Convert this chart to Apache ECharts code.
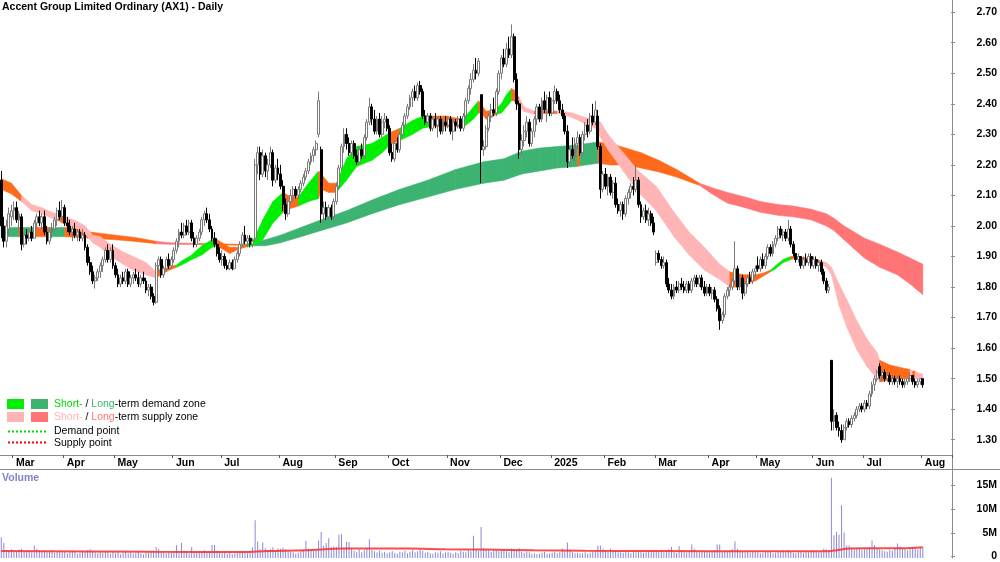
<!DOCTYPE html>
<html><head><meta charset="utf-8">
<script src="https://cdn.jsdelivr.net/npm/echarts@6/dist/echarts.min.js"></script>
<style>html,body{margin:0;padding:0;background:#fff}#c{width:1000px;height:562px}</style>
</head><body><div id="c"></div><script>
const chartTitle = 'Accent Group Limited Ordinary (AX1) - Daily';
const holidays = ['2024-03-29','2024-04-01','2024-04-25','2024-06-10','2024-12-25','2024-12-26','2025-01-01','2025-01-27','2025-04-18','2025-04-21','2025-04-25','2025-06-09'];
const monthNames = ['Jan','Feb','Mar','Apr','May','Jun','Jul','Aug','Sep','Oct','Nov','Dec'];
const padSlots = 11;

const opens = [
2.15,2.00,1.95,1.99,2.03,
2.05,2.06,2.02,2.03,1.94,1.97,1.96,1.98,1.96,2.01,2.03,2.01,2.03,1.98,1.95,1.98,1.99,2.02,2.05,2.03,
2.06,2.01,2.00,1.98,1.99,1.97,1.98,1.96,1.97,1.93,1.88,1.85,1.82,1.83,1.85,1.87,1.89,1.92,1.89,1.92,
1.87,1.84,1.81,1.83,1.82,1.85,1.81,1.83,1.84,1.83,1.81,1.83,1.82,1.79,1.80,1.77,1.75,1.87,1.89,1.84,1.86,1.89,1.87,
1.89,1.92,1.95,1.98,1.97,2.00,1.98,2.01,1.96,1.94,1.96,1.98,2.02,2.04,2.02,1.99,1.96,1.94,1.91,
1.89,1.90,1.87,1.86,1.88,1.86,1.89,1.91,1.94,1.97,1.95,1.96,1.94,1.96,2.20,2.24,2.17,2.23,2.18,2.20,2.24,2.15,2.19,
2.17,2.13,2.07,2.04,2.08,2.10,2.12,2.10,2.12,2.14,2.16,2.18,2.21,2.23,2.25,2.30,2.25,2.04,2.06,2.03,2.06,2.03,
2.08,2.13,2.19,2.26,2.30,2.27,2.24,2.27,2.23,2.21,2.25,2.23,2.29,2.34,2.39,2.35,2.31,2.35,2.30,2.34,2.35,
2.32,2.24,2.22,2.27,2.25,2.30,2.33,2.36,2.39,2.42,2.44,2.42,2.46,2.44,2.36,2.34,2.36,2.32,2.35,2.33,2.35,2.31,2.34,
2.33,2.35,2.31,2.34,2.33,2.35,2.32,2.36,2.41,2.45,2.48,2.51,2.50,2.43,2.25,2.26,2.32,2.36,2.38,2.37,2.44,
2.50,2.55,2.53,2.58,2.56,2.62,2.48,2.40,2.25,2.28,2.31,2.34,2.27,2.31,2.35,2.39,2.35,2.41,2.38,2.42,
2.37,2.41,2.44,2.41,2.38,2.36,2.31,2.21,2.25,2.23,2.27,2.29,2.24,2.30,2.33,2.31,2.36,2.34,2.36,2.26,2.12,
2.17,2.13,2.16,2.11,2.14,2.07,2.05,2.07,2.04,2.09,2.11,2.13,2.12,2.15,2.07,2.03,2.05,2.02,2.04,2.01,
1.88,1.91,1.89,1.87,1.88,1.81,1.79,1.77,1.80,1.79,1.81,1.80,1.79,1.81,1.79,1.82,1.83,1.81,1.83,1.80,1.78,
1.80,1.78,1.79,1.76,1.73,1.69,1.71,1.77,1.79,1.80,1.82,1.86,1.80,1.83,1.78,1.81,1.83,1.82,1.85,
1.87,1.86,1.89,1.87,1.90,1.93,1.91,1.94,1.96,1.99,1.97,1.98,1.96,1.99,1.94,1.91,1.89,1.90,1.87,1.89,1.88,1.90,
1.87,1.89,1.87,1.88,1.85,1.82,1.79,1.56,1.36,1.38,1.34,1.33,1.30,1.34,1.36,1.35,1.37,1.38,1.40,1.41,
1.40,1.42,1.41,1.45,1.48,1.50,1.54,1.51,1.52,1.50,1.51,1.49,1.50,1.49,1.50,1.49,1.48,1.49,1.50,1.51,1.49,1.48,1.49,1.50
];
const highs = [
2.18,2.03,2.02,2.06,2.07,
2.08,2.08,2.05,2.04,1.98,1.99,1.99,2.00,2.02,2.04,2.05,2.04,2.05,2.00,1.99,2.01,2.03,2.06,2.08,2.085,
2.07,2.03,2.02,2.00,2.01,1.99,1.99,1.99,1.98,1.94,1.90,1.87,1.84,1.86,1.88,1.90,1.93,1.94,1.93,1.94,
1.88,1.86,1.84,1.85,1.86,1.86,1.84,1.85,1.86,1.85,1.84,1.85,1.83,1.81,1.81,1.78,1.88,1.90,1.90,1.87,1.90,1.91,1.90,
1.93,1.96,1.99,2.01,2.01,2.02,2.02,2.02,1.98,1.97,1.99,2.03,2.05,2.06,2.04,2.00,1.98,1.96,1.93,
1.92,1.91,1.89,1.89,1.89,1.90,1.92,1.95,1.98,2.00,1.97,1.97,1.96,2.22,2.26,2.26,2.25,2.24,2.22,2.26,2.25,2.20,2.22,
2.20,2.15,2.09,2.09,2.12,2.13,2.13,2.13,2.15,2.17,2.19,2.22,2.24,2.26,2.28,2.44,2.26,2.08,2.08,2.07,2.07,2.09,
2.14,2.20,2.27,2.32,2.32,2.29,2.28,2.28,2.25,2.26,2.27,2.30,2.35,2.42,2.40,2.38,2.36,2.37,2.36,2.37,2.36,
2.33,2.27,2.28,2.29,2.31,2.34,2.37,2.40,2.43,2.45,2.46,2.47,2.475,2.45,2.38,2.37,2.37,2.36,2.37,2.36,2.36,2.35,2.36,
2.36,2.36,2.35,2.35,2.36,2.36,2.37,2.42,2.46,2.50,2.53,2.55,2.55,2.43,2.28,2.33,2.37,2.40,2.42,2.45,2.51,
2.56,2.58,2.60,2.62,2.66,2.63,2.50,2.41,2.30,2.33,2.36,2.35,2.32,2.36,2.40,2.40,2.42,2.44,2.43,2.44,
2.42,2.46,2.45,2.43,2.40,2.37,2.33,2.26,2.29,2.29,2.31,2.30,2.31,2.34,2.35,2.37,2.40,2.41,2.38,2.27,2.18,
2.19,2.17,2.17,2.15,2.16,2.09,2.08,2.08,2.10,2.12,2.14,2.16,2.20,2.16,2.08,2.06,2.07,2.06,2.05,2.03,
1.92,1.92,1.90,1.90,1.89,1.83,1.81,1.81,1.82,1.82,1.83,1.82,1.82,1.82,1.83,1.84,1.84,1.84,1.84,1.82,1.81,
1.81,1.80,1.80,1.77,1.74,1.72,1.78,1.80,1.81,1.83,1.95,1.87,1.84,1.84,1.82,1.84,1.85,1.86,1.87,
1.90,1.90,1.91,1.91,1.94,1.94,1.95,1.97,2.00,2.00,1.99,1.99,2.02,2.00,1.95,1.91,1.91,1.90,1.90,1.91,1.91,1.91,
1.90,1.90,1.89,1.89,1.86,1.83,1.81,1.56,1.40,1.39,1.36,1.35,1.35,1.37,1.37,1.38,1.39,1.41,1.42,1.42,
1.43,1.43,1.46,1.49,1.51,1.53,1.55,1.53,1.53,1.52,1.52,1.51,1.51,1.51,1.51,1.50,1.50,1.50,1.52,1.51,1.50,1.50,1.50,1.50
];
const lows = [
1.96,1.93,1.93,1.97,2.00,
2.02,2.01,1.99,1.92,1.93,1.94,1.95,1.95,1.96,1.99,2.00,1.99,1.97,1.94,1.94,1.96,1.98,2.00,2.02,2.02,
2.00,1.98,1.97,1.95,1.96,1.95,1.95,1.95,1.92,1.87,1.84,1.81,1.795,1.82,1.83,1.85,1.88,1.88,1.88,1.86,
1.83,1.80,1.80,1.81,1.81,1.80,1.80,1.81,1.82,1.80,1.80,1.81,1.78,1.77,1.76,1.74,1.745,1.85,1.83,1.83,1.85,1.86,1.86,
1.88,1.91,1.93,1.96,1.96,1.97,1.97,1.95,1.93,1.93,1.95,1.97,2.00,2.01,1.98,1.95,1.93,1.90,1.88,
1.87,1.86,1.855,1.855,1.855,1.86,1.88,1.90,1.93,1.94,1.93,1.93,1.93,1.95,2.17,2.15,2.16,2.16,2.15,2.19,2.13,2.14,2.15,
2.12,2.05,2.02,2.03,2.07,2.08,2.09,2.09,2.11,2.13,2.15,2.17,2.20,2.21,2.23,2.29,2.01,2.01,2.02,2.02,2.02,2.02,
2.07,2.12,2.18,2.24,2.25,2.23,2.23,2.22,2.20,2.20,2.22,2.22,2.28,2.33,2.33,2.30,2.30,2.29,2.29,2.32,2.31,
2.23,2.21,2.21,2.24,2.24,2.29,2.32,2.35,2.38,2.39,2.41,2.41,2.43,2.35,2.33,2.33,2.31,2.31,2.32,2.29,2.30,2.30,2.31,
2.32,2.30,2.28,2.31,2.32,2.31,2.31,2.35,2.40,2.43,2.47,2.48,2.49,2.14,2.23,2.25,2.31,2.34,2.36,2.36,2.43,
2.48,2.52,2.52,2.55,2.55,2.47,2.38,2.22,2.23,2.26,2.29,2.26,2.26,2.29,2.33,2.34,2.34,2.37,2.34,2.36,
2.36,2.40,2.40,2.37,2.35,2.30,2.19,2.20,2.22,2.21,2.25,2.23,2.23,2.28,2.29,2.30,2.33,2.33,2.25,2.09,2.11,
2.12,2.10,2.10,2.09,2.06,2.04,2.03,2.02,2.03,2.07,2.09,2.10,2.11,2.06,2.01,2.02,2.01,2.00,2.00,1.97,
1.87,1.88,1.86,1.86,1.80,1.78,1.76,1.76,1.78,1.78,1.79,1.78,1.78,1.78,1.78,1.80,1.80,1.80,1.79,1.77,1.77,
1.77,1.76,1.75,1.72,1.66,1.68,1.70,1.76,1.77,1.79,1.81,1.79,1.79,1.76,1.77,1.80,1.81,1.81,1.83,
1.85,1.85,1.86,1.86,1.89,1.90,1.90,1.93,1.95,1.96,1.95,1.95,1.95,1.93,1.90,1.88,1.88,1.86,1.86,1.87,1.87,1.86,
1.86,1.86,1.85,1.84,1.81,1.78,1.78,1.33,1.33,1.33,1.31,1.29,1.30,1.33,1.34,1.34,1.36,1.37,1.39,1.39,
1.39,1.40,1.40,1.44,1.46,1.49,1.50,1.49,1.49,1.49,1.48,1.48,1.48,1.47,1.48,1.47,1.47,1.48,1.49,1.48,1.47,1.47,1.48,1.47
];
const closes = [
2.00,1.95,2.00,2.04,2.05,
2.06,2.02,2.04,1.94,1.97,1.96,1.98,1.96,2.01,2.03,2.01,2.03,1.98,1.95,1.98,1.99,2.02,2.05,2.03,2.06,
2.01,2.00,1.98,1.99,1.97,1.98,1.96,1.97,1.93,1.88,1.85,1.82,1.83,1.85,1.87,1.89,1.92,1.89,1.92,1.87,
1.84,1.81,1.83,1.82,1.85,1.81,1.83,1.84,1.83,1.81,1.83,1.82,1.79,1.80,1.77,1.75,1.87,1.89,1.84,1.86,1.89,1.87,1.89,
1.92,1.95,1.98,1.97,2.00,1.98,2.01,1.96,1.94,1.96,1.98,2.02,2.04,2.02,1.99,1.96,1.94,1.91,1.89,
1.90,1.87,1.86,1.88,1.86,1.89,1.91,1.94,1.97,1.95,1.96,1.94,1.95,2.20,2.24,2.17,2.23,2.18,2.20,2.24,2.15,2.19,2.17,
2.13,2.07,2.04,2.08,2.10,2.12,2.10,2.12,2.14,2.16,2.18,2.21,2.23,2.25,2.27,2.41,2.04,2.06,2.03,2.06,2.03,2.08,
2.13,2.19,2.26,2.30,2.27,2.24,2.27,2.23,2.21,2.25,2.23,2.29,2.34,2.39,2.35,2.31,2.35,2.30,2.34,2.35,2.32,
2.24,2.22,2.27,2.25,2.30,2.33,2.36,2.39,2.42,2.44,2.42,2.46,2.44,2.36,2.34,2.36,2.32,2.35,2.33,2.35,2.31,2.34,2.33,
2.35,2.31,2.34,2.33,2.35,2.32,2.36,2.41,2.45,2.48,2.51,2.50,2.54,2.25,2.26,2.32,2.36,2.38,2.37,2.44,2.50,
2.55,2.53,2.58,2.56,2.62,2.48,2.40,2.25,2.28,2.31,2.34,2.27,2.31,2.35,2.39,2.35,2.41,2.38,2.42,2.37,
2.41,2.44,2.41,2.38,2.36,2.31,2.21,2.25,2.23,2.27,2.29,2.24,2.30,2.33,2.31,2.36,2.34,2.38,2.26,2.12,2.17,
2.13,2.16,2.11,2.14,2.07,2.05,2.07,2.04,2.09,2.11,2.13,2.12,2.15,2.07,2.03,2.05,2.02,2.04,2.01,1.98,
1.91,1.89,1.87,1.88,1.81,1.79,1.77,1.80,1.79,1.81,1.80,1.79,1.81,1.79,1.82,1.83,1.81,1.83,1.80,1.78,1.80,
1.78,1.79,1.76,1.73,1.69,1.71,1.77,1.79,1.80,1.82,1.86,1.80,1.83,1.78,1.81,1.83,1.82,1.85,1.86,
1.86,1.89,1.87,1.90,1.93,1.91,1.94,1.96,1.99,1.97,1.98,1.96,1.99,1.94,1.91,1.89,1.90,1.87,1.89,1.88,1.90,1.87,
1.89,1.87,1.88,1.85,1.82,1.79,1.80,1.36,1.38,1.34,1.33,1.30,1.34,1.36,1.35,1.37,1.38,1.40,1.41,1.40,
1.42,1.41,1.45,1.48,1.50,1.52,1.51,1.52,1.50,1.51,1.49,1.50,1.49,1.50,1.49,1.48,1.49,1.50,1.51,1.49,1.48,1.49,1.50,1.48
];
// volume in millions of shares
const volumes = [
4.3,3.1,1.7,1.6,1.8,1.5,1.4,1.7,1.9,1.3,1.5,1.6,1.2,2.6,1.9,1.6,1.3,1.5,1.2,1.4,1.6,1.1,1.3,1.5,1.2,
1.4,1.0,1.3,1.5,1.2,0.9,1.1,1.4,1.3,1.6,1.8,1.5,1.2,1.0,1.3,1.1,1.4,1.2,0.9,1.3,
1.0,1.2,0.8,1.1,1.3,1.0,1.2,0.9,1.1,1.4,1.0,0.8,1.2,1.1,1.3,1.5,2.3,1.9,1.4,1.2,1.0,1.3,1.1,
1.4,2.7,1.2,3.1,1.5,1.3,1.0,2.3,1.2,1.1,1.4,1.2,1.6,1.3,1.1,2.7,2.7,1.5,1.2,
1.0,1.1,0.9,1.2,0.8,1.0,1.1,1.3,1.4,1.2,1.0,1.5,2.2,7.8,3.4,1.8,3.2,2.0,1.6,1.8,2.2,1.5,2.0,
1.9,2.1,1.8,1.6,1.3,1.2,0.9,1.1,1.4,1.6,3.5,1.9,1.7,1.5,1.8,3.6,5.4,2.6,3.1,4.1,2.2,2.4,
2.3,4.8,4.9,2.1,3.3,3.3,1.9,1.5,1.3,1.8,1.2,1.6,2.0,3.9,1.7,1.4,1.2,1.5,1.1,1.3,1.0,
1.2,1.4,1.1,0.9,1.3,1.2,1.5,1.0,1.3,1.6,1.2,1.4,1.8,1.5,1.1,1.3,1.0,0.9,1.2,1.1,1.4,1.0,1.2,
1.3,1.1,0.9,1.2,1.0,1.5,1.3,1.2,1.6,1.4,4.6,1.8,1.5,6.4,2.0,1.7,1.6,1.3,1.8,1.5,1.4,
1.6,1.8,1.4,1.2,1.9,1.7,1.6,2.0,1.3,1.1,1.4,1.2,0.9,1.0,0.8,0.9,1.1,1.3,0.9,1.0,
1.1,1.3,1.0,1.2,1.9,1.4,3.2,1.6,1.2,1.0,1.1,0.9,1.0,1.2,0.9,1.1,1.3,1.5,2.6,2.6,1.9,
1.5,1.3,1.9,1.4,1.6,1.2,1.4,1.1,1.3,1.2,1.0,1.4,1.2,1.5,1.3,1.1,1.2,1.4,1.3,1.6,
1.5,1.3,1.6,1.2,1.4,1.8,2.3,1.3,1.1,2.5,1.6,1.4,1.2,1.5,2.8,1.9,1.3,1.2,1.5,1.4,1.3,
1.2,1.5,1.6,2.8,2.8,1.3,1.5,1.4,1.6,1.8,3.4,1.9,1.5,1.3,1.2,1.4,1.1,1.3,1.2,
1.2,1.0,1.1,1.3,1.2,1.4,1.0,1.1,1.3,1.2,1.5,1.2,1.6,1.3,1.1,1.0,1.2,1.4,1.1,1.3,1.2,1.5,
1.6,1.3,1.2,1.4,1.9,1.8,1.7,16.6,4.7,5.4,4.8,10.9,5.3,2.6,2.6,2.1,1.8,1.9,2.0,1.7,
1.8,2.1,2.2,3.6,2.7,2.0,1.8,1.6,1.4,1.3,1.7,1.5,2.0,3.0,2.4,2.1,1.9,1.6,2.0,2.2,2.1,1.8,2.1,2.2
];
// volume moving average, read at key days [day index, millions]
const volumeAverage = [[0,1.45],[60,1.3],[95,1.25],[105,1.45],[120,1.6],[135,1.95],[160,1.95],[175,1.8],[190,1.75],[210,1.6],[230,1.5],[260,1.45],[300,1.4],[326,1.4],[329,1.6],[333,1.9],[340,2.0],[355,2.0],[363,2.2]];

// zones read at key days: [day index, lower, upper, state]; state colours the stretch up to the next key day
const shortZone = [
[0,2.12,2.155,'o'],[4,2.105,2.14,'o'],[8,2.08,2.10,'ss'],[12,2.05,2.07,'ss'],[16,2.04,2.06,'ss'],[20,2.025,2.045,'ss'],[22,2.02,2.04,'o'],[25,2.005,2.03,'ss'],
[30,1.99,2.015,'ss'],[33,1.975,2.0,'ss'],[36,1.945,1.97,'ss'],[39,1.93,1.965,'ss'],[43,1.90,1.94,'ss'],[48,1.875,1.915,'ss'],[52,1.855,1.90,'ss'],[57,1.84,1.88,'ss'],
[61,1.83,1.85,'o'],[63,1.84,1.86,'o'],[66,1.855,1.865,'o'],[69,1.865,1.872,'sd'],[71,1.872,1.885,'sd'],[75,1.89,1.905,'sd'],[79,1.905,1.935,'sd'],[83,1.93,1.955,'sd'],
[85,1.935,1.955,'o'],[87,1.925,1.945,'o'],[90,1.91,1.93,'o'],[93,1.922,1.93,'o'],[97,1.933,1.94,'sd'],[99,1.935,1.948,'sd'],[103,1.955,2.02,'sd'],[107,2.01,2.08,'sd'],
[111,2.045,2.11,'o'],[113,2.055,2.10,'o'],[117,2.065,2.095,'sd'],[121,2.08,2.14,'sd'],[125,2.09,2.18,'o'],[126,2.12,2.17,'o'],[129,2.11,2.14,'o'],[132,2.11,2.14,'sd'],
[136,2.15,2.22,'sd'],[140,2.195,2.26,'sd'],[146,2.215,2.27,'sd'],[150,2.24,2.29,'sd'],[153,2.265,2.305,'o'],[157,2.28,2.32,'sd'],[162,2.30,2.345,'sd'],[166,2.32,2.36,'sd'],
[169,2.325,2.36,'o'],[175,2.325,2.36,'o'],[181,2.325,2.35,'sd'],[183,2.33,2.36,'sd'],[186,2.35,2.39,'sd'],[188,2.37,2.41,'o'],[189,2.37,2.40,'o'],[191,2.35,2.375,'o'],
[193,2.355,2.38,'o'],[195,2.365,2.385,'sd'],[197,2.37,2.40,'sd'],[199,2.39,2.43,'sd'],[201,2.41,2.45,'o'],[202,2.41,2.445,'o'],[204,2.39,2.42,'ss'],[206,2.375,2.39,'ss'],
[210,2.366,2.376,'o'],[212,2.368,2.376,'o'],[219,2.368,2.376,'ss'],[221,2.365,2.375,'ss'],[225,2.355,2.37,'ss'],[230,2.335,2.355,'ss'],[234,2.32,2.35,'ss'],[236,2.29,2.34,'ss'],
[239,2.25,2.30,'ss'],[245,2.18,2.24,'ss'],[251,2.11,2.18,'ss'],[258,2.05,2.13,'ss'],[265,1.965,2.045,'ss'],[271,1.905,1.98,'ss'],[277,1.855,1.93,'ss'],[283,1.825,1.875,'ss'],
[287,1.80,1.85,'o'],[289,1.80,1.845,'o'],[293,1.81,1.84,'o'],[297,1.82,1.84,'o'],[300,1.835,1.845,'o'],[303,1.85,1.856,'sd'],[305,1.86,1.87,'sd'],[308,1.88,1.89,'sd'],
[311,1.89,1.90,'o'],[313,1.895,1.90,'o'],[318,1.885,1.895,'o'],[323,1.875,1.885,'ss'],[325,1.865,1.88,'ss'],[327,1.84,1.865,'ss'],[330,1.74,1.81,'ss'],[333,1.67,1.76,'ss'],
[337,1.595,1.69,'ss'],[341,1.54,1.63,'ss'],[345,1.50,1.585,'ss'],[346,1.49,1.56,'o'],[350,1.495,1.545,'o'],[355,1.50,1.535,'o'],[358,1.50,1.53,'ss'],[359,1.50,1.525,'o'],
[360,1.50,1.525,'ss'],[361,1.50,1.52,'ss'],[363,1.50,1.515,'ss']
];
const longZone = [
[0,1.965,1.995,'ld'],[7,1.965,1.995,'o'],[9,1.965,1.995,'ld'],[13,1.965,1.995,'o'],[19,1.965,1.995,'ld'],[25,1.965,1.995,'o'],[30,1.963,1.99,'o'],[35,1.96,1.98,'o'],
[45,1.955,1.97,'o'],[52,1.95,1.963,'o'],[61,1.942,1.95,'ls'],[66,1.94,1.945,'ls'],[78,1.939,1.943,'o'],[94,1.937,1.94,'ld'],[97,1.935,1.94,'ld'],[104,1.935,1.955,'ld'],
[110,1.945,1.97,'ld'],[118,1.965,1.995,'ld'],[126,1.985,2.02,'ld'],[136,2.01,2.05,'ld'],[146,2.04,2.085,'ld'],[157,2.07,2.12,'ld'],[168,2.095,2.15,'ld'],[179,2.12,2.185,'ld'],
[190,2.14,2.21,'ld'],[198,2.15,2.22,'ld'],[205,2.17,2.245,'ld'],[212,2.18,2.255,'ld'],[219,2.19,2.26,'ld'],[227,2.195,2.265,'o'],[228,2.197,2.267,'ld'],[235,2.205,2.275,'o'],
[240,2.20,2.27,'o'],[246,2.20,2.255,'o'],[252,2.19,2.24,'o'],[259,2.177,2.215,'o'],[266,2.16,2.185,'o'],[271,2.145,2.16,'o'],[275,2.133,2.14,'ls'],[280,2.105,2.125,'ls'],
[286,2.075,2.11,'ls'],[293,2.06,2.095,'ls'],[299,2.045,2.08,'ls'],[306,2.035,2.07,'ls'],[312,2.03,2.065,'ls'],[319,2.02,2.055,'ls'],[325,2.00,2.04,'ls'],[328,1.985,2.025,'ls'],
[332,1.955,2.00,'ls'],[336,1.925,1.98,'ls'],[340,1.895,1.96,'ls'],[346,1.865,1.94,'ls'],[353,1.84,1.915,'ls'],[358,1.81,1.895,'ls'],[363,1.775,1.875,'ls']
];
const zoneColors = {sd:'#00ee00', ld:'#3cb371', ss:'#ffb5b5', ls:'#ff7575', o:'#ff6a1a'};
const priceTicks = {min:1.3, max:2.7, step:0.1};
const volumeTicks = {min:0, max:15, step:5};

function tradingDays(){
  const out=[]; const d=new Date(Date.UTC(2024,1,23)); const end=Date.UTC(2025,7,1);
  while(d.getTime()<=end){
    const wd=d.getUTCDay(); const s=d.toISOString().slice(0,10);
    if(wd!==0&&wd!==6&&holidays.indexOf(s)<0) out.push(s);
    d.setUTCDate(d.getUTCDate()+1);
  }
  return out;
}
const dates = tradingDays();
[opens,highs,lows,closes,volumes].forEach((a,k)=>{ if(a.length!==dates.length) console.error('length mismatch',k,a.length,dates.length); });
const cats = dates.concat(Array.from({length:padSlots},(_,k)=>'pad'+k));
const isMonthStart = cats.map((s,i)=> i>0 && i<dates.length && s.slice(0,7)!==dates[i-1].slice(0,7));
const tickFn = (i)=> isMonthStart[i];
const monthLabel = (v)=>{ const m=+v.slice(5,7); return m===1 ? v.slice(0,4) : monthNames[m-1]; };

const candles = dates.map((_,i)=>[opens[i],closes[i],lows[i],highs[i]]);

function zoneSeries(nodes){
  return {
    type:'custom', xAxisIndex:0, yAxisIndex:0, silent:true, z:2,
    data: nodes.map(n=>[n[0],n[1],n[2]]),
    encode:{x:0,y:[1,2]},
    renderItem:function(params,api){
      const k=params.dataIndex;
      if(k>=nodes.length-1) return null;
      const a=nodes[k], b=nodes[k+1];
      const c=zoneColors[a[3]];
      const pts=[api.coord([a[0],a[2]]),api.coord([b[0],b[2]]),api.coord([b[0],b[1]]),api.coord([a[0],a[1]])];
      return {type:'polygon', shape:{points:pts}, style:{fill:c, stroke:c, lineWidth:0.6}};
    }
  };
}

const FONT = '"Liberation Sans", Arial, sans-serif';
const FS = 10.5;
const axisGrey = '#8c8c8c';
const chart = echarts.init(document.getElementById('c'), null, {renderer:'canvas'});
chart.setOption({
  animation:false,
  backgroundColor:'#fff',
  textStyle:{fontFamily:FONT},
  title:{text:chartTitle, left:2, top:2, padding:0, textStyle:{fontSize:FS, fontWeight:'bold', color:'#000', fontFamily:FONT}},
  grid:[
    {left:0, top:0, width:952, height:455},
    {left:0, top:12.2, width:952, height:427.5},
    {left:0, top:470, width:952, height:88},
    {left:0, top:485.5, width:952, height:72.5}
  ],
  xAxis:[
    {gridIndex:0, type:'category', data:cats, boundaryGap:true,
     axisLine:{show:true, onZero:false, lineStyle:{color:axisGrey}},
     axisTick:{show:true, interval:tickFn, length:3, lineStyle:{color:'#555'}},
     axisLabel:{interval:tickFn, formatter:monthLabel, align:'left', margin:3, padding:[0,0,0,2], fontSize:FS, fontWeight:'bold', color:'#000', fontFamily:FONT},
     splitLine:{show:false}},
    {gridIndex:1, type:'value', show:false},
    {gridIndex:2, type:'category', data:cats, boundaryGap:true, show:false},
    {gridIndex:3, type:'value', show:false}
  ],
  yAxis:[
    {gridIndex:0, type:'value', position:'right', min:1.25, max:2.74,
     axisLine:{show:true, onZero:false, lineStyle:{color:axisGrey}}, axisTick:{show:false}, axisLabel:{show:false}, splitLine:{show:false}},
    {gridIndex:1, type:'value', position:'right', min:priceTicks.min, max:priceTicks.max, interval:priceTicks.step,
     axisLine:{show:false, onZero:false}, axisTick:{show:true, length:4, lineStyle:{color:axisGrey}},
     axisLabel:{formatter:(v)=>v.toFixed(2), align:'right', margin:46, fontSize:FS, fontWeight:'bold', color:'#000', fontFamily:FONT},
     splitLine:{show:false}},
    {gridIndex:2, type:'value', position:'right', min:0, max:18.21,
     axisLine:{show:true, onZero:false, lineStyle:{color:axisGrey}}, axisTick:{show:false}, axisLabel:{show:false}, splitLine:{show:false}},
    {gridIndex:3, type:'value', position:'right', min:volumeTicks.min, max:volumeTicks.max, interval:volumeTicks.step,
     axisLine:{show:false, onZero:false}, axisTick:{show:true, length:4, lineStyle:{color:axisGrey}},
     axisLabel:{formatter:(v)=> v===0?'0':v+'M', align:'right', margin:46, fontSize:FS, fontWeight:'bold', color:'#000', fontFamily:FONT},
     splitLine:{show:false}}
  ],
  series:[
    zoneSeries(longZone),
    zoneSeries(shortZone),
    {type:'candlestick', xAxisIndex:0, yAxisIndex:0, data:candles, barWidth:2.4, z:5,
     itemStyle:{color:'#ffffff', color0:'#000000', borderColor:'#7a7a7a', borderColor0:'#000000', borderWidth:1}},
    {type:'bar', xAxisIndex:2, yAxisIndex:2, data:volumes, barWidth:1, itemStyle:{color:'#8a8ad6'}, z:2},
    {type:'line', xAxisIndex:2, yAxisIndex:2, data:volumeAverage, symbol:'none', smooth:0.3,
     lineStyle:{color:'#ff2a2a', width:2, opacity:0.85}, z:3}
  ],
  graphic:[
    {type:'line', shape:{x1:0,y1:469.5,x2:1000,y2:469.5}, style:{stroke:axisGrey, lineWidth:1}},
    {type:'line', shape:{x1:952.5,y1:455,x2:952.5,y2:470}, style:{stroke:axisGrey, lineWidth:1}},
    {type:'text', x:2, y:478, style:{text:'Volume', fill:'#8383c4', font:'bold '+FS+'px '+FONT, verticalAlign:'middle'}},
    {type:'rect', shape:{x:7,y:399,width:17,height:10}, style:{fill:zoneColors.sd}},
    {type:'rect', shape:{x:31,y:399,width:17,height:10}, style:{fill:zoneColors.ld}},
    {type:'rect', shape:{x:7,y:412,width:17,height:10}, style:{fill:zoneColors.ss}},
    {type:'rect', shape:{x:31,y:412,width:17,height:10}, style:{fill:zoneColors.ls}},
    {type:'line', shape:{x1:8,y1:431.5,x2:48,y2:431.5}, style:{stroke:'#00dd00', lineWidth:2, lineDash:[2,2]}},
    {type:'line', shape:{x1:8,y1:442.5,x2:48,y2:442.5}, style:{stroke:'#ff0000', lineWidth:2, lineDash:[2,2]}},
    {type:'text', x:54, y:404, style:{text:'{g|Short-}{k| / }{d|Long}{k|-term demand zone}', verticalAlign:'middle', font:FS+'px '+FONT,
      rich:{g:{fill:'#00dd00', font:FS+'px '+FONT}, d:{fill:'#3cb371', font:FS+'px '+FONT}, k:{fill:'#000', font:FS+'px '+FONT}}}},
    {type:'text', x:54, y:417, style:{text:'{g|Short-}{k| / }{d|Long}{k|-term supply zone}', verticalAlign:'middle', font:FS+'px '+FONT,
      rich:{g:{fill:'#ffb5b5', font:FS+'px '+FONT}, d:{fill:'#ff7575', font:FS+'px '+FONT}, k:{fill:'#000', font:FS+'px '+FONT}}}},
    {type:'text', x:54, y:431, style:{text:'Demand point', fill:'#000', font:FS+'px '+FONT, verticalAlign:'middle'}},
    {type:'text', x:54, y:443, style:{text:'Supply point', fill:'#000', font:FS+'px '+FONT, verticalAlign:'middle'}}
  ]
});
</script></body></html>
